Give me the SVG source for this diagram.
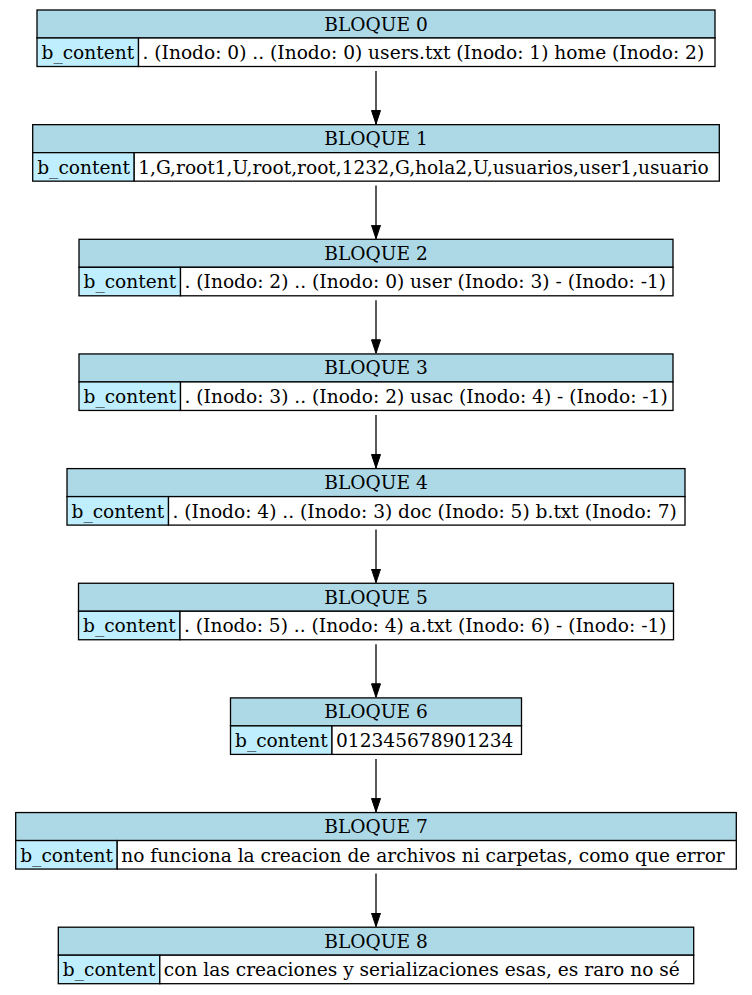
<svg xmlns="http://www.w3.org/2000/svg" width="752" height="995" viewBox="0 0 752 995">
<style>
text{font-family:"DejaVu Serif","Liberation Serif",serif;font-size:18.6px;fill:#000}
.h{fill:#ADD8E6;stroke:#000;stroke-width:1.3}
.k{fill:#BFEFFF;stroke:#000;stroke-width:1.3}
.v{fill:#FFFFFF;stroke:#000;stroke-width:1.3}
.c{text-anchor:middle}
.e{stroke:#000;stroke-width:1.3;fill:none}
</style>
<defs>
<marker id="arr" markerWidth="14" markerHeight="10" refX="14" refY="5" orient="auto" markerUnits="userSpaceOnUse" viewBox="0 0 14 10">
<path d="M0.5,0.5 L14,5 L0.5,9.5 Z" fill="#000" stroke="#000" stroke-width="1"/>
</marker>
</defs>
<g id="connectors">
<line class="e" x1="376" y1="71" x2="376" y2="124" marker-end="url(#arr)"/>
<line class="e" x1="376" y1="185.6" x2="376" y2="238.7" marker-end="url(#arr)"/>
<line class="e" x1="376" y1="300.3" x2="376" y2="353.3" marker-end="url(#arr)"/>
<line class="e" x1="376" y1="414.9" x2="376" y2="468" marker-end="url(#arr)"/>
<line class="e" x1="376" y1="529.6" x2="376" y2="582.6" marker-end="url(#arr)"/>
<line class="e" x1="376" y1="644.2" x2="376" y2="697.3" marker-end="url(#arr)"/>
<line class="e" x1="376" y1="758.9" x2="376" y2="811.9" marker-end="url(#arr)"/>
<line class="e" x1="376" y1="873.5" x2="376" y2="926.6" marker-end="url(#arr)"/>
</g>
<g id="node0" transform="translate(0,10)">
<rect class="h" x="37" y="0" width="678" height="28"/>
<rect class="k" x="37" y="28" width="101.5" height="28.5"/>
<rect class="v" x="138.5" y="28" width="576.5" height="28.5"/>
<text class="c" x="376" y="20.5">BLOQUE 0</text>
<text x="41.5" y="49">b_content</text>
<text x="142.5" y="49">. (Inodo: 0) .. (Inodo: 0) users.txt (Inodo: 1) home (Inodo: 2)</text>
</g>
<g id="node1" transform="translate(0,124.65)">
<rect class="h" x="32.7" y="0" width="686.6" height="28"/>
<rect class="k" x="32.7" y="28" width="101.5" height="28.5"/>
<rect class="v" x="134.2" y="28" width="585.1" height="28.5"/>
<text class="c" x="376" y="20.5">BLOQUE 1</text>
<text x="37.2" y="49">b_content</text>
<text x="138.2" y="49">1,G,root1,U,root,root,1232,G,hola2,U,usuarios,user1,usuario</text>
</g>
<g id="node2" transform="translate(0,239.3)">
<rect class="h" x="79" y="0" width="594" height="28"/>
<rect class="k" x="79" y="28" width="101.5" height="28.5"/>
<rect class="v" x="180.5" y="28" width="492.5" height="28.5"/>
<text class="c" x="376" y="20.5">BLOQUE 2</text>
<text x="83.5" y="49">b_content</text>
<text x="184.5" y="49">. (Inodo: 2) .. (Inodo: 0) user (Inodo: 3) - (Inodo: -1)</text>
</g>
<g id="node3" transform="translate(0,353.95)">
<rect class="h" x="79" y="0" width="594" height="28"/>
<rect class="k" x="79" y="28" width="101.5" height="28.5"/>
<rect class="v" x="180.5" y="28" width="492.5" height="28.5"/>
<text class="c" x="376" y="20.5">BLOQUE 3</text>
<text x="83.5" y="49">b_content</text>
<text x="184.5" y="49">. (Inodo: 3) .. (Inodo: 2) usac (Inodo: 4) - (Inodo: -1)</text>
</g>
<g id="node4" transform="translate(0,468.6)">
<rect class="h" x="67" y="0" width="618" height="28"/>
<rect class="k" x="67" y="28" width="101.5" height="28.5"/>
<rect class="v" x="168.5" y="28" width="516.5" height="28.5"/>
<text class="c" x="376" y="20.5">BLOQUE 4</text>
<text x="71.5" y="49">b_content</text>
<text x="172.5" y="49">. (Inodo: 4) .. (Inodo: 3) doc (Inodo: 5) b.txt (Inodo: 7)</text>
</g>
<g id="node5" transform="translate(0,583.25)">
<rect class="h" x="78.5" y="0" width="595" height="28"/>
<rect class="k" x="78.5" y="28" width="101.5" height="28.5"/>
<rect class="v" x="180" y="28" width="493.5" height="28.5"/>
<text class="c" x="376" y="20.5">BLOQUE 5</text>
<text x="83" y="49">b_content</text>
<text x="184" y="49">. (Inodo: 5) .. (Inodo: 4) a.txt (Inodo: 6) - (Inodo: -1)</text>
</g>
<g id="node6" transform="translate(0,697.9)">
<rect class="h" x="230.5" y="0" width="291" height="28"/>
<rect class="k" x="230.5" y="28" width="101.5" height="28.5"/>
<rect class="v" x="332" y="28" width="189.5" height="28.5"/>
<text class="c" x="376" y="20.5">BLOQUE 6</text>
<text x="235" y="49">b_content</text>
<text x="336" y="49">012345678901234</text>
</g>
<g id="node7" transform="translate(0,812.55)">
<rect class="h" x="15.7" y="0" width="720.6" height="28"/>
<rect class="k" x="15.7" y="28" width="101.5" height="28.5"/>
<rect class="v" x="117.2" y="28" width="619.1" height="28.5"/>
<text class="c" x="376" y="20.5">BLOQUE 7</text>
<text x="20.2" y="49">b_content</text>
<text x="121.2" y="49">no funciona la creacion de archivos ni carpetas, como que error</text>
</g>
<g id="node8" transform="translate(0,927.2)">
<rect class="h" x="58.3" y="0" width="635.4" height="28"/>
<rect class="k" x="58.3" y="28" width="101.5" height="28.5"/>
<rect class="v" x="159.8" y="28" width="533.9" height="28.5"/>
<text class="c" x="376" y="20.5">BLOQUE 8</text>
<text x="62.8" y="49">b_content</text>
<text x="163.8" y="49">con las creaciones y serializaciones esas, es raro no sé</text>
</g>
</svg>
